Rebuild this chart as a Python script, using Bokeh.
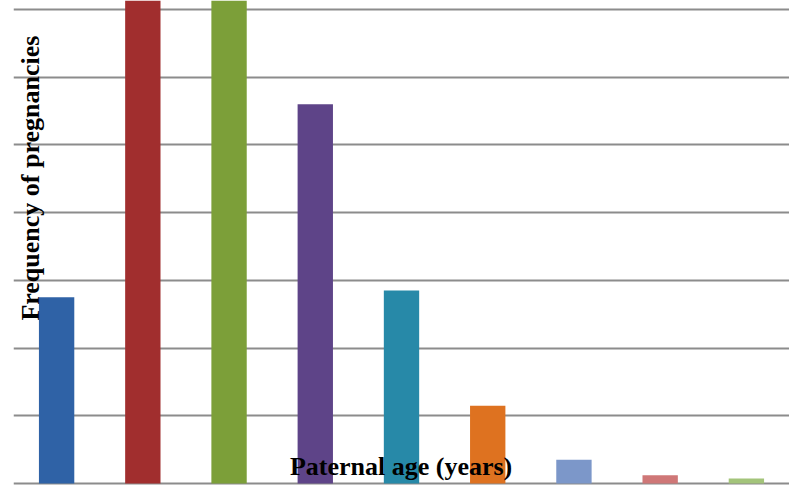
from math import pi
from bokeh.plotting import figure
from bokeh.models import Range1d, Label, ColumnDataSource
from bokeh.embed import file_html
from bokeh.resources import INLINE

# Data (gridline interval = 20)
age_groups = ["15-19", "20-24", "25-29", "30-34", "35-39", "40-44", "45-49", "50-54", "55+"]
frequencies = [55, 150, 150, 112, 57, 23, 7, 2.4, 1.5]
bar_colors = ["#2f62a6", "#a12e2e", "#7c9f39", "#5e4488", "#2789a8", "#de7220", "#7c97c9", "#cf7777", "#a3c47a"]
grid_ticks = [0, 20, 40, 60, 80, 100, 120, 140]

x_pos = [i + 0.5 for i in range(len(age_groups))]
src = ColumnDataSource(dict(x=x_pos, top=frequencies, color=bar_colors, label=age_groups))

p = figure(width=789, height=486, output_backend="svg", toolbar_location=None,
           x_range=Range1d(0, 9), y_range=Range1d(-0.886, 142.66),
           min_border_left=13, min_border_right=0, min_border_top=0, min_border_bottom=0)
p.outline_line_color = None
p.background_fill_color = "white"
p.border_fill_color = "white"

p.xaxis.visible = False
p.yaxis.visible = False
p.xgrid.grid_line_color = None
p.ygrid.ticker = grid_ticks
p.ygrid.grid_line_color = "#8c8c8c"
p.ygrid.grid_line_width = 2

p.vbar(x="x", top="top", bottom=0, width=0.41, fill_color="color", line_color=None, source=src)

font = "Liberation Serif"
ylab = Label(x=0.2, y=90.2, text="Frequency of pregnancies", angle=pi / 2,
             text_font=font, text_font_style="bold", text_font_size="26px",
             text_align="center", text_baseline="alphabetic", text_color="black")
xlab = Label(x=4.495, y=4.9, text="Paternal age (years)",
             text_font=font, text_font_style="bold", text_font_size="26px",
             text_align="center", text_baseline="alphabetic", text_color="black")
p.add_layout(ylab)
p.add_layout(xlab)

open("out.html", "w").write(file_html(p, INLINE))
